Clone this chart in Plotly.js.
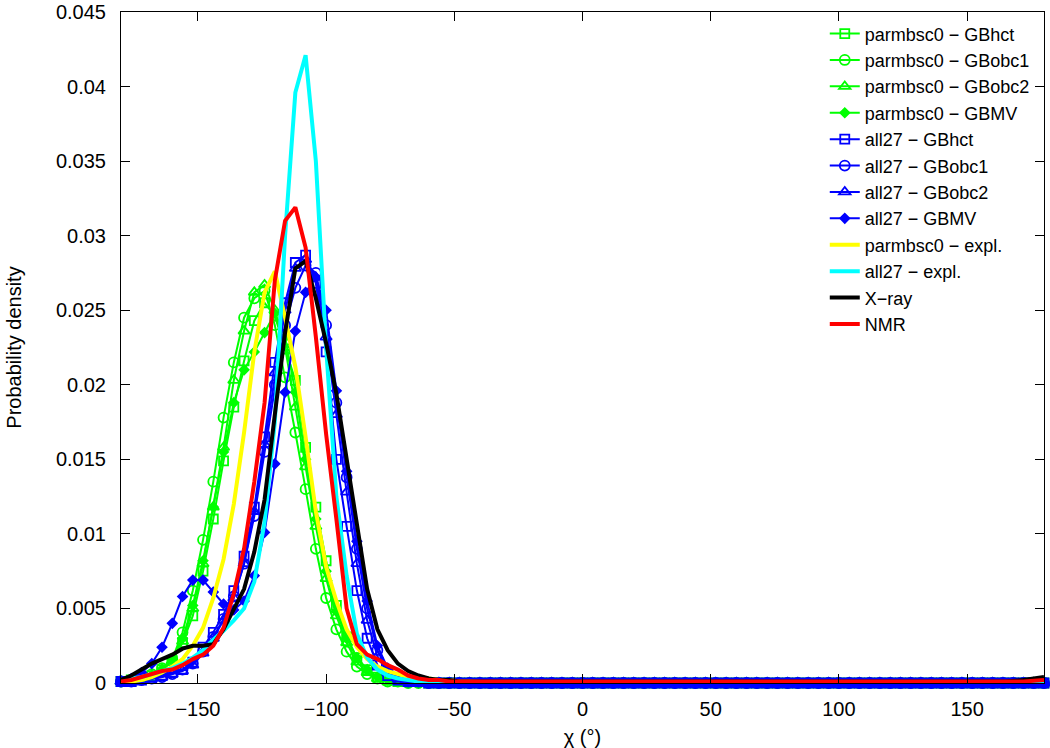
<!DOCTYPE html>
<html>
<head>
<meta charset="utf-8">
<script src="https://cdn.plot.ly/plotly-3.0.1.min.js"></script>
<style>
  body { margin: 0; background: #fff; }
  #chi { width: 1050px; height: 748px; }
</style>
</head>
<body>
<div id="chi"></div>
<script>
// chi angle grid (deg) for the GB runs, one value per histogram bin
var chi = [-180,-176,-172,-168,-164,-160,-156,-152,-148,-144,-140,-136,-132,-128,-124,-120,-116,-112,-108,-104,
  -100,-96,-92,-88,-84,-80,-76,-72,-68,-64,-60,-56,-52,-48,-44,-40,-36,-32,-28,-24,-20,-16,-12,-8,-4,
  0,4,8,12,16,20,24,28,32,36,40,44,48,52,56,60,64,68,72,76,80,84,88,92,96,100,104,108,112,116,120,
  124,128,132,136,140,144,148,152,156,160,164,168,172,176,180];

// coarser grid for the explicit solvent / experimental curves
var chiLine = [-180,-176,-172,-168,-164,-160,-156,-152,-148,-144,-140,-136,-132,-128,-124,-120,-116,-112,-108,-104,
  -100,-96,-92,-88,-84,-80,-76,-72,-68,-64,-60,-56,-52,-48,-44,-30,0,30,60,90,120,150,165,172,180];

var xTicks = [-150, -100, -50, 0, 50, 100, 150];
var yTicks = [0, 0.005, 0.01, 0.015, 0.02, 0.025, 0.03, 0.035, 0.04, 0.045];

var bsc0_hct = [0.0001,0.0002,0.0003,0.0005,0.0009,0.0015,0.0027,0.0045,0.0075,0.0110,0.0149,0.0185,0.0216,0.0243,0.0255,0.0246,0.0224,0.0203,0.0158,0.0118,
  0.0082,0.0052,0.0031,0.0017,0.0009,0.0004,0.0002,0.0001,0.0001,0.0001,0,0,0,0,
  0,0,0,0,0,0,0,0,0,0,0,0,0,0,0,0,0,0,0,
  0,0,0,0,0,0,0,0,0,0,0,0,0,0,0,0,0,0,0,
  0,0,0,0,0,0,0,0,0,0,0,0,0,0,0,0,0,0,0];
var bsc0_obc1 = [0.0001,0.0002,0.0003,0.0006,0.0010,0.0016,0.0034,0.0062,0.0096,0.0135,0.0178,0.0215,0.0245,0.0258,0.0263,0.0240,0.0205,0.0168,0.0130,0.0090,
  0.0057,0.0036,0.0021,0.0011,0.0006,0.0003,0.0001,0.0001,0,0,0,0,0,0,
  0,0,0,0,0,0,0,0,0,0,0,0,0,0,0,0,0,0,0,
  0,0,0,0,0,0,0,0,0,0,0,0,0,0,0,0,0,0,0,
  0,0,0,0,0,0,0,0,0,0,0,0,0,0,0,0,0,0,0];
var bsc0_obc2 = [0.0001,0.0001,0.0003,0.0005,0.0009,0.0015,0.0028,0.0050,0.0080,0.0118,0.0158,0.0203,0.0236,0.0262,0.0267,0.0250,0.0225,0.0185,0.0145,0.0105,
  0.0070,0.0045,0.0027,0.0014,0.0007,0.0003,0.0001,0.0001,0,0,0,0,0,0,
  0,0,0,0,0,0,0,0,0,0,0,0,0,0,0,0,0,0,0,
  0,0,0,0,0,0,0,0,0,0,0,0,0,0,0,0,0,0,0,
  0,0,0,0,0,0,0,0,0,0,0,0,0,0,0,0,0,0,0];
var bsc0_gbmv = [0.0001,0.0002,0.0003,0.0005,0.0009,0.0016,0.0030,0.0052,0.0082,0.0118,0.0155,0.0188,0.0210,0.0222,0.0235,0.0248,0.0232,0.0195,0.0150,0.0110,
  0.0075,0.0048,0.0030,0.0017,0.0009,0.0004,0.0002,0.0001,0.0001,0,0,0,0,0,
  0,0,0,0,0,0,0,0,0,0,0,0,0,0,0,0,0,0,0,
  0,0,0,0,0,0,0,0,0,0,0,0,0,0,0,0,0,0,0,
  0,0,0,0,0,0,0,0,0,0,0,0,0,0,0,0,0,0,0];

var c27_hct = [0.0001,0.0001,0.0002,0.0003,0.0005,0.0007,0.0009,0.0014,0.0024,0.0034,0.0046,0.0062,0.0085,0.0118,0.0165,0.0215,0.0255,0.0282,0.0287,0.0268,
  0.0222,0.0150,0.0105,0.0062,0.0030,0.0012,0.0005,0.0002,0.0001,0.0001,0,0,0,0,
  0,0,0,0,0,0,0,0,0,0,0,0,0,0,0,0,0,0,0,
  0,0,0,0,0,0,0,0,0,0,0,0,0,0,0,0,0,0,0,
  0,0,0,0,0,0,0,0,0,0,0,0,0,0,0,0,0,0,0];
var c27_obc1 = [0.0001,0.0001,0.0002,0.0003,0.0004,0.0006,0.0009,0.0013,0.0021,0.0031,0.0043,0.0058,0.0080,0.0112,0.0155,0.0200,0.0240,0.0265,0.0280,0.0275,
  0.0240,0.0188,0.0138,0.0090,0.0050,0.0022,0.0008,0.0003,0.0001,0.0001,0,0,0,0,
  0,0,0,0,0,0,0,0,0,0,0,0,0,0,0,0,0,0,0,
  0,0,0,0,0,0,0,0,0,0,0,0,0,0,0,0,0,0,0,
  0,0,0,0,0,0,0,0,0,0,0,0,0,0,0,0,0,0,0];
var c27_obc2 = [0.0001,0.0001,0.0002,0.0003,0.0004,0.0006,0.0008,0.0012,0.0020,0.0030,0.0042,0.0057,0.0080,0.0115,0.0160,0.0208,0.0250,0.0278,0.0284,0.0272,
  0.0232,0.0180,0.0128,0.0080,0.0042,0.0018,0.0007,0.0003,0.0001,0.0001,0,0,0,0,
  0,0,0,0,0,0,0,0,0,0,0,0,0,0,0,0,0,0,0,
  0,0,0,0,0,0,0,0,0,0,0,0,0,0,0,0,0,0,0,
  0,0,0,0,0,0,0,0,0,0,0,0,0,0,0,0,0,0,0];
var c27_gbmv = [0.0001,0.0003,0.0007,0.0013,0.0024,0.0040,0.0058,0.0069,0.0069,0.0061,0.0053,0.0049,0.0055,0.0072,0.0101,0.0147,0.0195,0.0236,0.0262,0.0272,
  0.0250,0.0196,0.0142,0.0095,0.0055,0.0025,0.0010,0.0004,0.0002,0.0001,0,0,0,0,
  0,0,0,0,0,0,0,0,0,0,0,0,0,0,0,0,0,0,0,
  0,0,0,0,0,0,0,0,0,0,0,0,0,0,0,0,0,0,0,
  0,0,0,0,0,0,0,0,0,0,0,0,0,0,0,0,0,0,0];

var bsc0_expl = [0.0001,0.0001,0.0002,0.0004,0.0007,0.0011,0.0016,0.0025,0.0037,0.0057,0.0083,0.0120,0.0168,0.0222,0.0262,0.0276,0.0245,0.0212,0.0165,0.0115,
  0.0078,0.0055,0.0036,0.0024,0.0016,0.0011,0.0008,0.0006,0.0004,0.0003,0.0003,0.0002,0.0002,0.0001,0.0001,
  0,0,0,0,0,0,0,0,0,0];
var c27_expl = [0.0002,0.0003,0.0004,0.0006,0.0008,0.0010,0.0013,0.0017,0.0022,0.0029,0.0035,0.0042,0.0050,0.0068,0.0108,0.0175,0.0300,0.0396,0.0421,0.0350,
  0.0225,0.0125,0.0072,0.0033,0.0017,0.0009,0.0005,0.0003,0.0002,0.0001,0.0001,0,0,0,0,
  0,0,0,0,0,0,0,0,0,0];
var xray = [0.0002,0.0005,0.0009,0.0013,0.0016,0.0019,0.0023,0.0025,0.0025,0.0026,0.0036,0.0050,0.0063,0.0088,0.0123,0.0180,0.0235,0.0278,0.0283,0.0258,
  0.0228,0.0194,0.0151,0.0104,0.0063,0.0036,0.0022,0.0013,0.0008,0.0005,0.0003,0.0002,0.0002,0.0001,0.0001,
  0.0001,0.0001,0.0001,0.0001,0.0001,0.0001,0.0001,0.0001,0.0002,0.0004];
var nmr = [0.0001,0.0002,0.0004,0.0006,0.0008,0.0009,0.0012,0.0016,0.0019,0.0025,0.0037,0.0060,0.0090,0.0135,0.0188,0.0270,0.0310,0.0319,0.0292,0.0232,
  0.0167,0.0110,0.0050,0.0026,0.0019,0.0016,0.0012,0.0009,0.0005,0.0003,0.0002,0.0002,0.0001,0.0001,0.0001,
  0.0001,0.0001,0.0001,0.0001,0.0001,0.0001,0.0001,0.0001,0.0001,0.0002];

var green = '#00ff00', blue = '#0000ff';

function gbTrace(name, y, color, symbol, size) {
  return {
    x: chi, y: y, name: name,
    type: 'scatter', mode: 'lines+markers',
    cliponaxis: false,
    line: {color: color, width: 2},
    marker: {color: color, symbol: symbol, size: size, line: {color: color, width: 1.8}}
  };
}

function solidTrace(name, y, color) {
  return {
    x: chiLine, y: y, name: name,
    type: 'scatter', mode: 'lines',
    line: {color: color, width: 4}
  };
}

var data = [
  gbTrace('parmbsc0 \u2212 GBhct', bsc0_hct, green, 'square-open', 9),
  gbTrace('parmbsc0 \u2212 GBobc1', bsc0_obc1, green, 'circle-open', 10),
  gbTrace('parmbsc0 \u2212 GBobc2', bsc0_obc2, green, 'triangle-up-open', 10),
  gbTrace('parmbsc0 \u2212 GBMV', bsc0_gbmv, green, 'diamond', 7),
  gbTrace('all27 \u2212 GBhct', c27_hct, blue, 'square-open', 9),
  gbTrace('all27 \u2212 GBobc1', c27_obc1, blue, 'circle-open', 10),
  gbTrace('all27 \u2212 GBobc2', c27_obc2, blue, 'triangle-up-open', 10),
  gbTrace('all27 \u2212 GBMV', c27_gbmv, blue, 'diamond', 7),
  solidTrace('parmbsc0 \u2212 expl.', bsc0_expl, '#ffff00'),
  solidTrace('all27 \u2212 expl.', c27_expl, '#00ffff'),
  solidTrace('X\u2212ray', xray, '#000000'),
  solidTrace('NMR', nmr, '#ff0000')
];

var axisFont = {family: 'Liberation Sans, Arial, sans-serif', size: 20, color: '#000'};

var layout = {
  width: 1050, height: 748,
  margin: {l: 121, r: 6, t: 12, b: 65},
  paper_bgcolor: '#fff', plot_bgcolor: '#fff',
  font: axisFont,
  showlegend: true,
  legend: {
    x: 0.99, y: 0.995, xanchor: 'right', yanchor: 'top',
    bgcolor: 'rgba(0,0,0,0)', borderwidth: 0,
    font: {family: 'Liberation Sans, Arial, sans-serif', size: 18, color: '#000'},
    tracegroupgap: 0
  },
  xaxis: {
    range: [-180, 180], tickvals: xTicks,
    ticks: 'inside', ticklen: 9, tickcolor: '#000',
    showline: true, linecolor: '#000', linewidth: 1, mirror: 'allticks',
    showgrid: false, zeroline: false,
    ticklabelstandoff: 8,
    tickfont: axisFont,
    title: {text: '\u03c7 (\u00b0)', font: axisFont, standoff: 10}
  },
  yaxis: {
    range: [0, 0.045], tickvals: yTicks,
    ticks: 'inside', ticklen: 9, tickcolor: '#000',
    showline: true, linecolor: '#000', linewidth: 1, mirror: 'allticks',
    showgrid: false, zeroline: false,
    ticklabelstandoff: 10,
    ticklabeloverflow: 'allow',
    tickfont: axisFont,
    title: {text: 'Probability density', font: axisFont, standoff: 28}
  }
};

Plotly.newPlot('chi', data, layout, {displayModeBar: false});
</script>
</body>
</html>
